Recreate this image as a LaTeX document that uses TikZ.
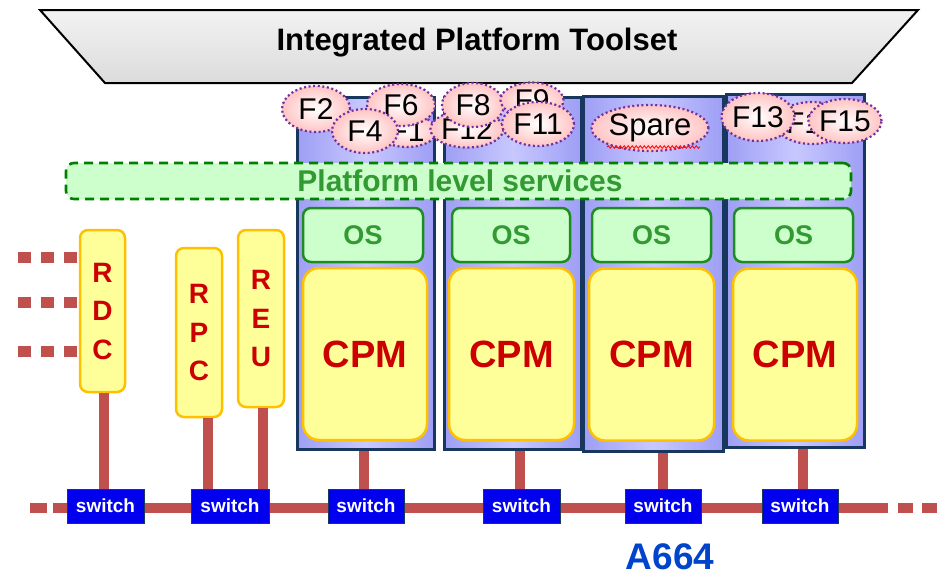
\documentclass[tikz,border=0pt]{standalone}
\usepackage{fontspec}
\setmainfont{Liberation Sans}
\usetikzlibrary{shapes.geometric,decorations.pathmorphing}
\definecolor{busred}{HTML}{C0504D}
\definecolor{swblue}{HTML}{0000EE}
\definecolor{navy}{HTML}{17375E}
\definecolor{lav}{HTML}{9E9EF5}
\definecolor{lavlt}{HTML}{C8C8FF}
\definecolor{osgreen}{HTML}{CCFFCC}
\definecolor{osborder}{HTML}{1E8C1E}
\definecolor{ostext}{HTML}{339933}
\definecolor{cpmfill}{HTML}{FFFF99}
\definecolor{cpmborder}{HTML}{FFC000}
\definecolor{cpmtext}{HTML}{CC0000}
\definecolor{fborder}{HTML}{7030A0}
\definecolor{fpink}{HTML}{FFC4C4}
\definecolor{afour}{HTML}{0044CC}
\definecolor{dashgreen}{HTML}{008000}
\begin{document}
\begin{tikzpicture}[x=1pt,y=-1pt,
  module/.style={draw=navy, line width=3pt, left color=lav, right color=lav, middle color=lavlt, inner sep=0pt},
  osbox/.style={draw=osborder, line width=2.5pt, fill=osgreen, rounded corners=8pt, inner sep=0pt, minimum height=54pt,
     text=ostext, font=\fontsize{27}{27}\selectfont\bfseries},
  cpmbox/.style={draw=cpmborder, line width=2.5pt, fill=cpmfill, rounded corners=16pt, inner sep=0pt, minimum height=172pt,
     text=cpmtext, font=\fontsize{38}{38}\selectfont\bfseries},
  unitbox/.style={draw=cpmborder, line width=2.5pt, fill=cpmfill, rounded corners=8pt, inner sep=0pt, align=center,
     text=cpmtext, font=\fontsize{28}{38.5}\selectfont\bfseries},
  swbox/.style={draw=navy, line width=0.6pt, fill=swblue, inner sep=0pt, minimum height=34pt,
     text=white, font=\fontsize{19}{19}\selectfont\bfseries},
  conn/.style={draw=busred, line width=10pt},
  fell/.style={ellipse, draw=fborder, line width=2.2pt, dash pattern=on 2pt off 2.6pt, inner color=white, outer color=fpink,
     inner sep=0pt, font=\fontsize{30}{30}\selectfont},
]
\useasboundingbox (0,0) rectangle (945,576);

% toolset trapezoid
\draw[line width=2pt, top color=white!95!black, bottom color=white!86!black]
  (40,10) -- (918,10) -- (852,83) -- (105,83) -- cycle;
\node[font=\fontsize{31}{31}\selectfont\bfseries] (ipt) at (477,43) {Integrated Platform Toolset};

% bus
\coordinate (bl) at (53,508);
\coordinate (br) at (888,508);
\draw[conn] (bl) -- (br);
\draw[conn] (30,508) -- (47,508);
\draw[conn] (898,508) -- (913,508);
\draw[conn] (922,508) -- (937,508);

% modules
\node[module, minimum width=137pt, minimum height=352pt] (m1) at (365.5,273) {};
\node[module, minimum width=137pt, minimum height=352pt] (m2) at (512.5,273) {};
\node[module, minimum width=140pt, minimum height=355pt] (m3) at (653,273.5) {};
\node[module, minimum width=138pt, minimum height=353pt] (m4) at (795,270.5) {};

% OS
\node[osbox, minimum width=120pt] (os1) at (363,235) {OS};
\node[osbox, minimum width=118pt] (os2) at (511,235) {OS};
\node[osbox, minimum width=119pt] (os3) at (651.5,235) {OS};
\node[osbox, minimum width=119pt] (os4) at (793.5,235) {OS};

% CPM
\node[cpmbox, minimum width=124pt] (c1) at (365,354) {CPM};
\node[cpmbox, minimum width=125pt] (c2) at (511.5,354) {CPM};
\node[cpmbox, minimum width=125pt] (c3) at (651.5,354.5) {CPM};
\node[cpmbox, minimum width=124pt] (c4) at (795,354.5) {CPM};

% platform level services
\node[draw=dashgreen, line width=2.6pt, dash pattern=on 9pt off 6pt, fill=osgreen, rounded corners=8pt,
      minimum width=785pt, minimum height=36pt, inner sep=0pt, text=ostext,
      font=\fontsize{30}{30}\selectfont\bfseries] (pls) at (458.5,181) {\hspace*{3pt}Platform level services};

% function ellipses, module 1
\node[fell, minimum width=60pt, minimum height=32pt] (f1) at (407,131) {F1};
\node[fell, minimum width=68pt, minimum height=46pt] (f2) at (316,109) {F2};
\node[fell, minimum width=68pt, minimum height=42pt] (f6) at (401,105) {F6};
\node[fell, minimum width=66pt, minimum height=44pt] (f4) at (365,131) {F4};
% module 2
\node[fell, minimum width=66pt, minimum height=37pt] (f12) at (467,129) {F12};
\node[fell, minimum width=62pt, minimum height=44pt] (f8) at (473,105) {F8};
\node[fell, minimum width=63pt, minimum height=35pt] (f9) at (532,100) {F9};
\node[fell, minimum width=72pt, minimum height=44pt] (f11) at (538,124) {F11};
% module 3
\node[fell, minimum width=84pt, minimum height=46pt, font=\fontsize{31}{31}\selectfont] (spare) at (650,128) {Spare};
\draw[red, line width=0.8pt, decorate, decoration={snake, amplitude=1.3pt, segment length=4pt}]
  ([xshift=-43pt,yshift=-19pt]spare.center) -- ([xshift=50pt,yshift=-19pt]spare.center);
% module 4
\node[fell, minimum width=62pt, minimum height=42pt] (f14) at (812,123) {F14};
\node[fell, minimum width=70pt, minimum height=48pt] (f13) at (758,117) {F13};
\node[fell, minimum width=64pt, minimum height=44pt] (f15) at (845,121) {F15};

% remote units
\node[unitbox, minimum width=45pt, minimum height=162pt] (rdc) at (102.5,311) {R\\D\\C};
\node[unitbox, minimum width=46pt, minimum height=169pt] (rpc) at (199,332.5) {R\\P\\C};
\node[unitbox, minimum width=46pt, minimum height=177pt] (reu) at (261,318.5) {R\\E\\U};

% left dotted links
\draw[busred, line width=11pt, dash pattern=on 13pt off 10pt] (18,257) -- (rdc.west |- 0,257);
\draw[busred, line width=11pt, dash pattern=on 13pt off 10pt] (18,302) -- (rdc.west |- 0,302);
\draw[busred, line width=11pt, dash pattern=on 13pt off 10pt] (18,351) -- (rdc.west |- 0,351);

% switches
\node[swbox, minimum width=77pt] (sw1) at (105.5,506) {switch};
\node[swbox, minimum width=78pt] (sw2) at (230,506) {switch};
\node[swbox, minimum width=76pt] (sw3) at (366,506) {switch};
\node[swbox, minimum width=77pt] (sw4) at (521.5,506) {switch};
\node[swbox, minimum width=76pt] (sw5) at (663,506) {switch};
\node[swbox, minimum width=76pt] (sw6) at (800,506) {switch};

% connectors
\draw[conn] ([xshift=1.5pt]rdc.south) -- ([xshift=1.5pt]rdc.south |- sw1.north);
\draw[conn] ([xshift=9pt]rpc.south) -- ([xshift=9pt]rpc.south |- sw2.north);
\draw[conn] ([xshift=2pt]reu.south) -- ([xshift=2pt]reu.south |- sw2.north);
\draw[conn] ([xshift=-1.5pt]m1.south) -- ([xshift=-1.5pt]m1.south |- sw3.north);
\draw[conn] ([xshift=7.5pt]m2.south) -- ([xshift=7.5pt]m2.south |- sw4.north);
\draw[conn] ([xshift=10pt]m3.south) -- ([xshift=10pt]m3.south |- sw5.north);
\draw[conn] ([xshift=8pt]m4.south) -- ([xshift=8pt]m4.south |- sw6.north);

\node[text=afour, font=\fontsize{37}{37}\selectfont\bfseries] (a664) at (670,557) {A664};
\end{tikzpicture}
\end{document}
